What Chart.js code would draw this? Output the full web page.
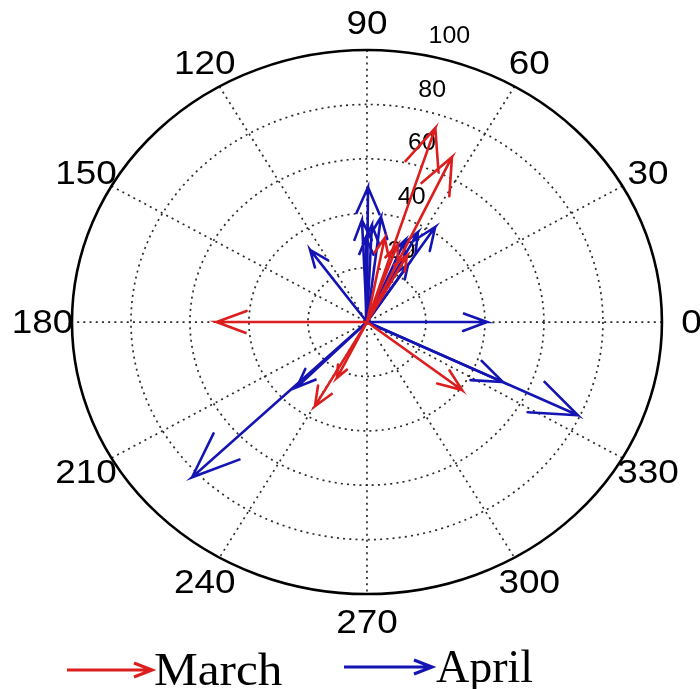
<!DOCTYPE html>
<html>
<head>
<meta charset="utf-8">
<script src="https://cdn.jsdelivr.net/npm/chart.js@4.4.1/dist/chart.umd.min.js"></script>
<style>
  html, body { margin: 0; padding: 0; background: #ffffff; }
  #wrap { width: 700px; height: 689px; position: relative; }
</style>
</head>
<body>
<div id="wrap"><canvas id="compass"></canvas></div>
<script>
// Polar grid ticks
const angleTicks = [0, 30, 60, 90, 120, 150, 180, 210, 240, 270, 300, 330];
const radialTicks = [20, 40, 60, 80, 100];
const rMax = 100;

// March vectors: direction (degrees) and magnitude
const marchAngles = [72, 64.6, 79, 70, 61, 180, 243.6, 240.3, 322.2];
const marchValues = [75, 67.2, 31.5, 30.2, 28, 51, 23, 35.6, 40.8];

// April vectors: direction (degrees) and magnitude
const aprilAngles = [0, 334.4, 334.4, 223.9, 225.2, 126, 89.6, 83, 92.6, 87.3, 90.6, 56.5, 62.4, 66.8, 56.5];
const aprilValues = [40.7, 51.1, 79.3, 82.3, 33.7, 32.8, 49.6, 38.9, 37.5, 35.7, 30.9, 41.9, 37.3, 32.8, 25.2];

const seriesNames = ['March', 'April'];
const seriesColors = ['#dc1e1e', '#1414b4'];

// Compass-style arrow: shaft from origin to tip, head barbs at 0.8 length, +/-0.08 width
function arrowPoints(angleDeg, value) {
  const a = angleDeg * Math.PI / 180;
  const u = value * Math.cos(a), v = value * Math.sin(a);
  const mul = (re, im) => ({ x: u * re - v * im, y: u * im + v * re });
  return [{ x: 0, y: 0 }, mul(1, 0), mul(0.8, 0.08), mul(1, 0), mul(0.8, -0.08)];
}

function buildDatasets(angles, values, color, order, label) {
  return angles.map((ang, i) => ({
    label: label,
    data: arrowPoints(ang, values[i]),
    showLine: true,
    borderColor: color,
    borderWidth: 2.6,
    pointRadius: 0,
    fill: false,
    tension: 0,
    order: order
  }));
}

const datasets = [
  ...buildDatasets(marchAngles, marchValues, seriesColors[0], 0, seriesNames[0]),
  ...buildDatasets(aprilAngles, aprilValues, seriesColors[1], 1, seriesNames[1])
];

const SX = 1.085; // horizontal text stretch, same as the axes aspect

function stretchedText(ctx, text, x, y, sx) {
  ctx.save();
  ctx.translate(x, y);
  ctx.scale(sx, 1);
  ctx.fillText(text, 0, 0);
  ctx.restore();
}

const polarGrid = {
  id: 'polarGrid',
  beforeDatasetsDraw(chart) {
    const ctx = chart.ctx;
    const xs = chart.scales.x, ys = chart.scales.y;
    const cx = xs.getPixelForValue(0), cy = ys.getPixelForValue(0);
    const px = (r, deg) => xs.getPixelForValue(r * Math.cos(deg * Math.PI / 180));
    const py = (r, deg) => ys.getPixelForValue(r * Math.sin(deg * Math.PI / 180));
    const rx = (r) => xs.getPixelForValue(r) - cx;
    const ry = (r) => cy - ys.getPixelForValue(r);

    ctx.save();
    // dotted rings
    ctx.strokeStyle = '#2a2a2a';
    ctx.lineWidth = 1.7;
    ctx.setLineDash([2, 4.2]);
    radialTicks.filter(r => r < rMax).forEach(r => {
      ctx.beginPath();
      ctx.ellipse(cx, cy, rx(r), ry(r), 0, 0, Math.PI * 2);
      ctx.stroke();
    });
    // dotted spokes
    for (let k = 0; k < 6; k++) {
      const d = k * 30;
      ctx.beginPath();
      ctx.moveTo(px(rMax, d), py(rMax, d));
      ctx.lineTo(px(rMax, d + 180), py(rMax, d + 180));
      ctx.stroke();
    }
    // solid outer boundary
    ctx.setLineDash([]);
    ctx.strokeStyle = '#000000';
    ctx.lineWidth = 2.6;
    ctx.beginPath();
    ctx.ellipse(cx, cy, rx(rMax), ry(rMax), 0, 0, Math.PI * 2);
    ctx.stroke();

    // angle labels
    ctx.fillStyle = '#000000';
    ctx.font = '34px "Liberation Sans", Arial, sans-serif';
    ctx.textAlign = 'center';
    ctx.textBaseline = 'middle';
    angleTicks.forEach(d => {
      stretchedText(ctx, String(d), px(1.1 * rMax, d), py(1.1 * rMax, d) + 2, SX);
    });

    // radial labels
    ctx.font = '23px "Liberation Sans", Arial, sans-serif';
    ctx.textAlign = 'left';
    ctx.textBaseline = 'alphabetic';
    const c80 = Math.cos(80 * Math.PI / 180), s80 = Math.sin(80 * Math.PI / 180);
    radialTicks.forEach(r => {
      const x = xs.getPixelForValue(r * c80 + 3.5);
      const y = ys.getPixelForValue(r * s80 + 4);
      stretchedText(ctx, String(r), x, y, SX);
    });
    ctx.restore();
  },
  afterDraw(chart) {
    const ctx = chart.ctx;
    const drawKeyArrow = (x0, x1, y, color) => {
      ctx.strokeStyle = color;
      ctx.lineWidth = 3.2;
      ctx.beginPath();
      ctx.moveTo(x0, y);
      ctx.lineTo(x1, y);
      ctx.moveTo(x1 - 18, y - 7);
      ctx.lineTo(x1, y);
      ctx.lineTo(x1 - 18, y + 7);
      ctx.stroke();
    };
    ctx.save();
    drawKeyArrow(67, 152, 670, seriesColors[0]);
    drawKeyArrow(344, 432, 667, seriesColors[1]);
    ctx.fillStyle = '#000000';
    ctx.font = '46px "Liberation Serif", "Times New Roman", serif';
    ctx.textAlign = 'left';
    ctx.textBaseline = 'alphabetic';
    stretchedText(ctx, seriesNames[0], 154, 685, 1.07);
    ctx.fillText(seriesNames[1], 436, 682);
    ctx.restore();
  }
};

new Chart(document.getElementById('compass'), {
  type: 'scatter',
  data: { datasets },
  options: {
    responsive: true,
    maintainAspectRatio: false,
    animation: false,
    layout: { padding: 0 },
    scales: {
      x: { type: 'linear', min: -124.4, max: 112.9, display: false },
      y: { type: 'linear', min: -134.9, max: 118.4, display: false }
    },
    plugins: {
      legend: { display: false },
      tooltip: { enabled: false }
    },
    elements: { line: { borderCapStyle: 'round', borderJoinStyle: 'miter' } }
  },
  plugins: [polarGrid]
});
</script>
</body>
</html>
